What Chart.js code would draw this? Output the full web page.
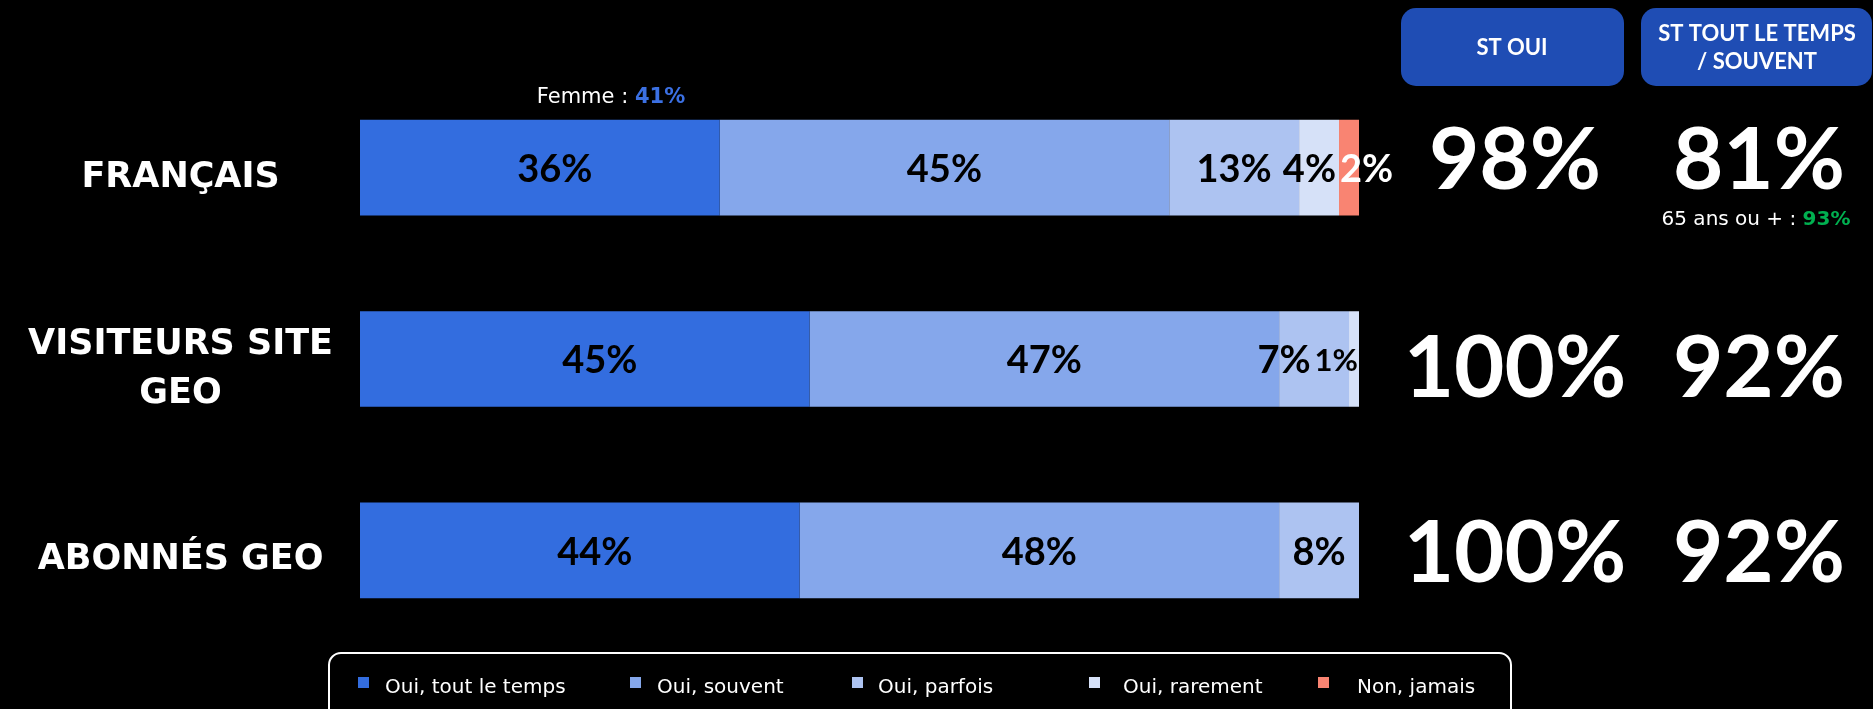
<!DOCTYPE html>
<html>
<head>
<meta charset="utf-8">
<script src="https://cdn.jsdelivr.net/npm/chart.js@4"></script>
<style>
	html, body { margin: 0; padding: 0; background: #000; }
	canvas { display: block; }
</style>
</head>
<body>
<canvas id="chart" width="1873" height="709"></canvas>
<script>

// categories and answers
const categories = ['FRANÇAIS', ['VISITEURS SITE', 'GEO'], 'ABONNÉS GEO'];
const seriesNames = ['Oui, tout le temps', 'Oui, souvent', 'Oui, parfois', 'Oui, rarement', 'Non, jamais'];

const toutLeTemps = [36, 45, 44];
const souvent = [45, 47, 48];
const parfois = [13, 7, 8];
const rarement = [4, 1, 0];
const jamais = [2, 0, 0];

// totals shown on the right
const stOui = [98, 100, 100];
const stToutSouvent = [81, 92, 92];

// side notes
const femmeShare = 41;
const seniorShare = 93;

const colors = ['#336ddf', '#85a7eb', '#adc3f1', '#d6e1f8', '#f98472'];
const labelColors = ['#000', '#000', '#000', '#000', '#fff'];

const series = [toutLeTemps, souvent, parfois, rarement, jamais];

const segmentLabels = {
	id: 'segmentLabels',
	afterDatasetsDraw(chart) {
		let ctx = chart.ctx;
		ctx.save();
		ctx.textAlign = 'left';
		ctx.textBaseline = 'middle';
		categories.forEach((c, i) => {
			let segs = [];
			chart.data.datasets.forEach((ds, d) => {
				let v = ds.data[i];
				if (!v) return;
				let bar = chart.getDatasetMeta(d).data[i];
				segs.push({ v, d, start: Math.min(bar.base, bar.x), end: Math.max(bar.base, bar.x), y: bar.y });
			});
			let limit = Infinity;
			for (let k = segs.length - 1; k >= 0; k--) {
				let s = segs[k];
				let size = s.v <= 1 ? 31 : 38;
				ctx.font = `bold ${size}px Lato`;
				let text = s.v + '%';
				let w = ctx.measureText(text).width;
				let left = (s.start + s.end) / 2 - w / 2;
				if (k === 0) left += 15;
				if (k === segs.length - 1 && w > s.end - s.start) {
					left = labelColors[s.d] === '#fff' ? s.start + 1 : s.end - w - 1;
				}
				if (left + w > limit) left = limit - w;
				limit = left - 4;
				ctx.fillStyle = labelColors[s.d];
				ctx.fillText(text, left, s.y + 2);
			}
		});
		ctx.restore();
	}
};

function box(ctx, x, y, w, h, r) {
	ctx.beginPath();
	ctx.roundRect(x, y, w, h, r);
}

const sidePanel = {
	id: 'sidePanel',
	afterDraw(chart) {
		let ctx = chart.ctx;
		let yScale = chart.scales.y;
		let area = chart.chartArea;
		let col1 = 1515, col2 = 1759;
		let rowShift = [-10, 7, 1];

		ctx.save();

		// headers
		ctx.fillStyle = '#1f4db4';
		box(ctx, 1401, 8, 223, 78, 15);
		ctx.fill();
		box(ctx, 1641, 8, 231, 78, 15);
		ctx.fill();

		ctx.fillStyle = '#fff';
		ctx.textAlign = 'center';
		ctx.textBaseline = 'middle';
		ctx.font = 'bold 22px Lato';
		ctx.fillText('ST OUI', 1512, 48);
		ctx.fillText('ST TOUT LE TEMPS', 1757, 34);
		ctx.fillText('/ SOUVENT', 1757, 62);

		// totals
		ctx.font = 'bold 87px Lato';
		categories.forEach((c, i) => {
			let y = yScale.getPixelForValue(i) + rowShift[i];
			ctx.fillText(stOui[i] + '%', col1, y + 3);
			ctx.fillText(stToutSouvent[i] + '%', col2, y + 3);
		});

		// notes
		let note = (x, y, size, prefix, value, color) => {
			ctx.font = `${size}px "DejaVu Sans"`;
			let w1 = ctx.measureText(prefix).width;
			ctx.font = `bold ${size}px "DejaVu Sans"`;
			let w2 = ctx.measureText(value).width;
			let start = x - (w1 + w2) / 2;
			ctx.textAlign = 'left';
			ctx.font = `${size}px "DejaVu Sans"`;
			ctx.fillStyle = '#fff';
			ctx.fillText(prefix, start, y);
			ctx.font = `bold ${size}px "DejaVu Sans"`;
			ctx.fillStyle = color;
			ctx.fillText(value, start + w1, y);
		};
		let firstBar = chart.getDatasetMeta(0).data[0];
		note(area.left + 251, firstBar.y - firstBar.height / 2 - 22, 21, 'Femme : ', femmeShare + '%', '#3b70e3');
		note(col2 - 3, yScale.getPixelForValue(0) + 52, 20, '65 ans ou + : ', seniorShare + '%', '#00b050');

		ctx.restore();
	}
};

const legendBox = {
	id: 'legendBox',
	afterDraw(chart) {
		let ctx = chart.ctx;
		let squareX = [358, 630, 852, 1089, 1318];
		let textGap = [27, 27, 26, 34, 39];
		ctx.save();
		ctx.strokeStyle = '#fff';
		ctx.lineWidth = 2;
		box(ctx, 329, 653, 1182, 70, 12);
		ctx.stroke();

		ctx.font = '20px "DejaVu Sans"';
		ctx.textAlign = 'left';
		ctx.textBaseline = 'middle';
		chart.data.datasets.forEach((ds, d) => {
			ctx.fillStyle = ds.backgroundColor;
			ctx.fillRect(squareX[d], 677, 11, 11);
			ctx.fillStyle = '#fff';
			ctx.fillText(ds.label, squareX[d] + textGap[d], 688);
		});
		ctx.restore();
	}
};

new Chart(document.getElementById('chart'), {
	type: 'bar',
	data: {
		labels: categories,
		datasets: seriesNames.map((name, d) => ({
			label: name,
			data: series[d],
			backgroundColor: colors[d],
			borderWidth: 0,
			categoryPercentage: 1,
			barPercentage: 0.5,
		})),
	},
	options: {
		indexAxis: 'y',
		responsive: false,
		animation: false,
		devicePixelRatio: 1,
		layout: { padding: { left: 0, right: 514, top: 72, bottom: 63 } },
		plugins: {
			legend: { display: false },
			tooltip: { enabled: false },
		},
		scales: {
			x: {
				stacked: true,
				min: 0,
				max: 100,
				display: false,
			},
			y: {
				stacked: true,
				border: { display: false },
				grid: { display: false, drawTicks: false },
				ticks: {
					color: '#fff',
					padding: 27,
					labelOffset: 10,
					crossAlign: 'center',
					font: { family: 'DejaVu Sans', weight: 'bold', size: 35, lineHeight: 1.4 },
				},
				afterFit(scale) {
					scale.width = 360;
					scale.paddingTop = 0;
					scale.paddingBottom = 0;
				},
			},
		},
	},
	plugins: [segmentLabels, sidePanel, legendBox],
});

</script>
</body>
</html>
